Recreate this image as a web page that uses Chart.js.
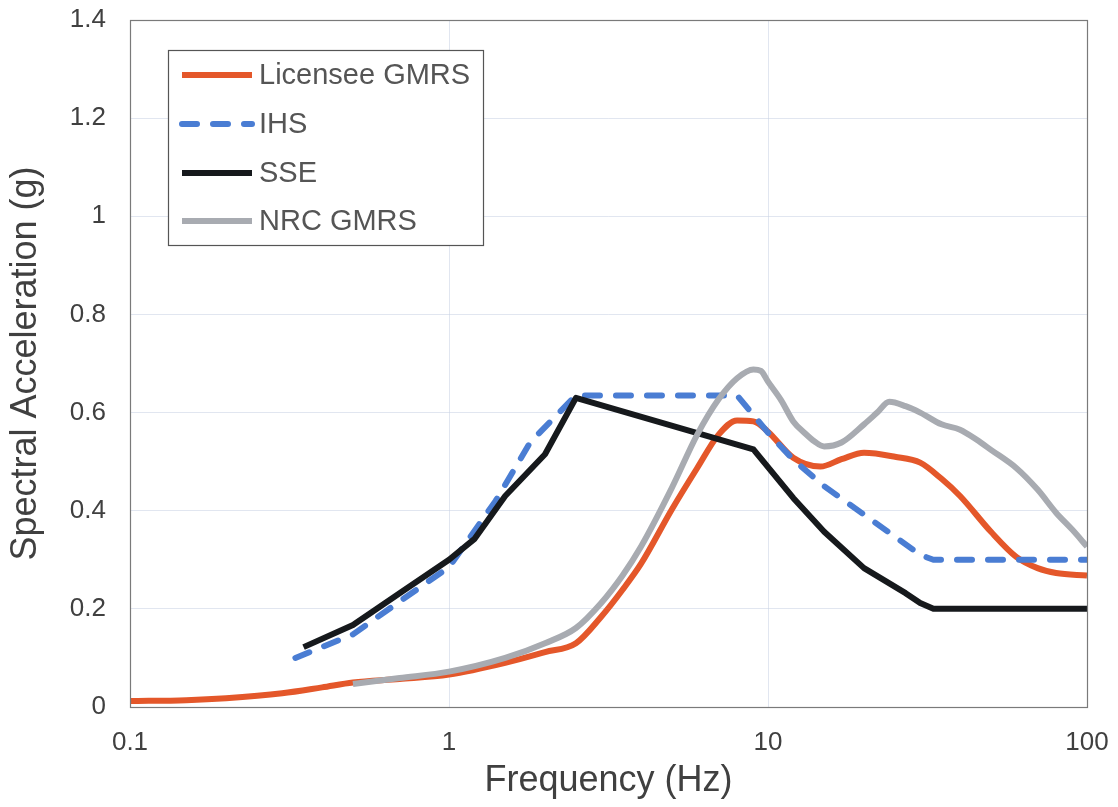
<!DOCTYPE html>
<html>
<head>
<meta charset="utf-8">
<script src="https://cdn.jsdelivr.net/npm/chart.js@4.4.1/dist/chart.umd.min.js"></script>
<style>
  html, body { margin: 0; padding: 0; background: #ffffff; }
  canvas { display: block; }
</style>
</head>
<body>
<canvas id="c" width="1118" height="807"></canvas>
<script>
// ---- Data ----
const seriesNames = ['Licensee GMRS', 'IHS', 'SSE', 'NRC GMRS'];

const licenseeFreq = [0.1, 0.15, 0.2, 0.3, 0.4, 0.5, 0.7, 1, 1.5, 2, 2.5, 3, 3.5, 4, 5, 6, 7, 8, 9, 10, 12, 14.6, 17, 20, 25, 30, 35, 40, 50, 60, 70, 80, 100];
const licenseeSa   = [0.012, 0.014, 0.018, 0.028, 0.04, 0.05, 0.057, 0.066, 0.09, 0.112, 0.13, 0.184, 0.239, 0.292, 0.403, 0.487, 0.555, 0.584, 0.582, 0.561, 0.508, 0.49, 0.505, 0.518, 0.51, 0.498, 0.465, 0.43, 0.357, 0.306, 0.283, 0.273, 0.268];

const ihsFreq = [0.33, 0.5, 0.7, 1, 1.4, 1.8, 2.5, 8, 10, 12, 15, 20, 25, 30, 33, 100];
const ihsSa   = [0.1, 0.148, 0.215, 0.285, 0.42, 0.54, 0.635, 0.635, 0.559, 0.504, 0.45, 0.392, 0.347, 0.31, 0.3, 0.3];

const sseFreq = [0.35, 0.5, 0.7, 1, 1.2, 1.5, 2, 2.5, 9, 12, 15, 20, 27, 30, 33, 100];
const sseSa   = [0.122, 0.167, 0.232, 0.3, 0.342, 0.43, 0.515, 0.63, 0.525, 0.426, 0.357, 0.283, 0.232, 0.212, 0.2, 0.2];

const nrcFreq = [0.5, 0.7, 1, 1.5, 2, 2.5, 3, 3.5, 4, 5, 6, 7, 8, 9, 9.5, 10, 11, 12, 13, 14, 15, 17, 20, 22, 24, 27, 30, 35, 40, 45, 50, 60, 70, 80, 90, 100];
const nrcSa   = [0.047, 0.059, 0.072, 0.1, 0.13, 0.161, 0.212, 0.268, 0.327, 0.447, 0.555, 0.627, 0.67, 0.688, 0.685, 0.663, 0.625, 0.582, 0.559, 0.541, 0.531, 0.539, 0.576, 0.6, 0.622, 0.613, 0.6, 0.576, 0.565, 0.545, 0.524, 0.487, 0.443, 0.396, 0.361, 0.327];

const xTickValues = [0.1, 1, 10, 100];
const xTickLabels = ['0.1', '1', '10', '100'];
const yTickValues = [0, 0.2, 0.4, 0.6, 0.8, 1, 1.2, 1.4];
const yTickLabels = ['0', '0.2', '0.4', '0.6', '0.8', '1', '1.2', '1.4'];

const xTitle = 'Frequency (Hz)';
const yTitle = 'Spectral Acceleration (g)';

// ---- Build datasets ----
function pts(xs, ys) { return xs.map((x, i) => ({ x: x, y: ys[i] })); }

const colors = ['#E4572A', '#4A7DD3', '#16191c', '#A8ABB1'];
const FONT = '"Liberation Sans", Arial, sans-serif';

const datasets = [
  { label: seriesNames[0], data: pts(licenseeFreq, licenseeSa), borderColor: colors[0], borderWidth: 6, order: 4, cubicInterpolationMode: 'monotone' },
  { label: seriesNames[1], data: pts(ihsFreq, ihsSa), borderColor: colors[1], borderWidth: 6, borderDash: [15, 16], borderCapStyle: 'round', order: 3, tension: 0 },
  { label: seriesNames[2], data: pts(sseFreq, sseSa), borderColor: colors[2], borderWidth: 6, order: 2, tension: 0 },
  { label: seriesNames[3], data: pts(nrcFreq, nrcSa), borderColor: colors[3], borderWidth: 6, order: 1, cubicInterpolationMode: 'monotone' }
];
datasets.forEach(d => { d.pointRadius = 0; d.fill = false; d.borderJoinStyle = 'round'; });

// ---- Plugins ----
const whiteBg = {
  id: 'whiteBg',
  beforeDraw(chart) {
    const ctx = chart.ctx;
    ctx.save();
    ctx.fillStyle = '#ffffff';
    ctx.fillRect(0, 0, chart.width, chart.height);
    ctx.restore();
  }
};

const frame = {
  id: 'frame',
  afterDatasetsDraw(chart) {
    const a = chart.chartArea, ctx = chart.ctx;
    ctx.save();
    ctx.strokeStyle = '#7a7a7a';
    ctx.lineWidth = 1.2;
    ctx.strokeRect(a.left + 0.5, a.top + 0.5, a.right - a.left, a.bottom - a.top);
    ctx.restore();
  }
};

const insideLegend = {
  id: 'insideLegend',
  afterDraw(chart) {
    const ctx = chart.ctx;
    const box = { x: 168, y: 50, w: 315, h: 195 };
    ctx.save();
    ctx.fillStyle = '#ffffff';
    ctx.fillRect(box.x, box.y, box.w, box.h);
    ctx.strokeStyle = '#555555';
    ctx.lineWidth = 1.2;
    ctx.strokeRect(box.x + 0.5, box.y + 0.5, box.w, box.h);
    const rows = [75, 124, 173, 221];
    chart.data.datasets.forEach((ds, i) => {
      const y = rows[i];
      ctx.beginPath();
      ctx.strokeStyle = ds.borderColor;
      ctx.lineWidth = ds.borderWidth;
      ctx.lineCap = ds.borderCapStyle || 'butt';
      ctx.setLineDash(ds.borderDash || []);
      ctx.moveTo(182, y);
      ctx.lineTo(252, y);
      ctx.stroke();
      ctx.setLineDash([]);
      ctx.fillStyle = '#555555';
      ctx.font = '29px ' + FONT;
      ctx.textBaseline = 'middle';
      ctx.textAlign = 'left';
      ctx.fillText(ds.label, 259, y + 1);
    });
    ctx.restore();
  }
};

// ---- Chart ----
new Chart(document.getElementById('c'), {
  type: 'line',
  data: { datasets: datasets },
  options: {
    responsive: false,
    animation: false,
    events: [],
    layout: { padding: { top: 20, right: 31, left: 0, bottom: 0 } },
    plugins: { legend: { display: false }, tooltip: { enabled: false } },
    scales: {
      x: {
        type: 'logarithmic',
        min: 0.1, max: 100,
        afterBuildTicks(s) { s.ticks = xTickValues.map(v => ({ value: v })); },
        afterFit(s) { s.height = 100; s.paddingLeft = 0; s.paddingRight = 0; },
        ticks: {
          autoSkip: false, maxRotation: 0, padding: 20,
          color: '#404040', font: { family: FONT, size: 26 },
          callback(v) { const i = xTickValues.indexOf(v); return i >= 0 ? xTickLabels[i] : ''; }
        },
        grid: { color: 'rgba(200,210,228,0.55)', lineWidth: 1, drawTicks: false },
        border: { display: false },
        title: { display: true, text: xTitle, color: '#404040', font: { family: FONT, size: 36 }, padding: { top: 0, bottom: 4 } }
      },
      y: {
        type: 'linear',
        min: 0, max: 1.4,
        afterBuildTicks(s) { s.ticks = yTickValues.map(v => ({ value: v })); },
        afterFit(s) { s.width = 130; s.paddingTop = 0; s.paddingBottom = 0; },
        ticks: {
          autoSkip: false, padding: 24,
          color: '#404040', font: { family: FONT, size: 26 },
          callback(v) { const i = yTickValues.findIndex(t => Math.abs(t - v) < 1e-9); return i >= 0 ? yTickLabels[i] : ''; }
        },
        grid: { color: 'rgba(200,210,228,0.55)', lineWidth: 1, drawTicks: false },
        border: { display: false },
        title: { display: true, text: yTitle, color: '#404040', font: { family: FONT, size: 36 }, padding: { top: 4, bottom: 0 } }
      }
    }
  },
  plugins: [whiteBg, frame, insideLegend]
});
</script>
</body>
</html>
